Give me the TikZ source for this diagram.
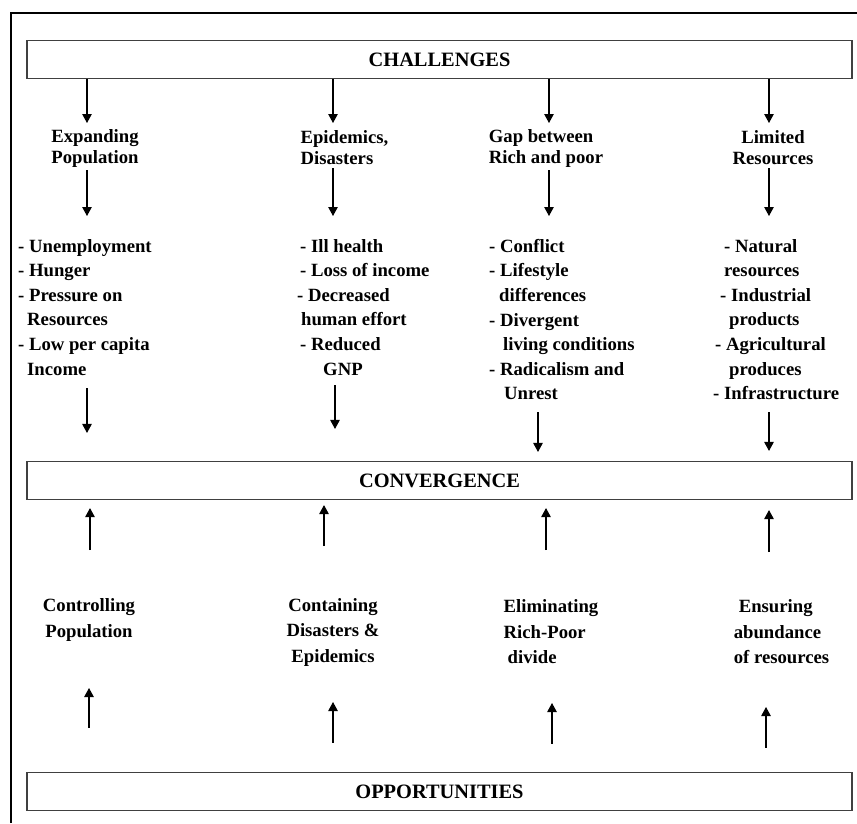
\documentclass[tikz,border=0pt]{standalone}
\usepackage{fontspec}
\setmainfont{Liberation Serif}
\usepackage{tikz}
\usetikzlibrary{arrows.meta,positioning}

\tikzset{
    titlebox/.style={draw=black!75, line width=1.1pt, minimum width=825pt, minimum height=38pt,
        inner sep=0pt, font=\fontsize{20.4}{24}\selectfont\bfseries},
    headtxt/.style={inner sep=0pt, align=center, font=\fontsize{18.7}{21}\selectfont\bfseries},
    listtxt/.style={inner sep=0pt, align=left, anchor=north west, font=\fontsize{18.7}{24.6}\selectfont\bfseries},
    opptxt/.style={inner sep=0pt, font=\fontsize{18.7}{25.5}\selectfont\bfseries},
    arr/.style={line width=1.1pt, -{Triangle[length=9pt,width=9.5pt]}},
}

\begin{document}
\begin{tikzpicture}[x=1pt,y=-1pt]
    \useasboundingbox (0,0) rectangle (857,823);
    % outer frame (left and top)
    \draw[line width=2pt] (11,823) -- (11,13) -- (857,13);

    % the three bars
    \node[titlebox] (chal) at (439.5,59.5) {CHALLENGES};
    \node[titlebox] (conv) at (439.5,480.5) {CONVERGENCE};
    \node[titlebox] (opp)  at (439.5,791.5) {OPPORTUNITIES};

    % challenges
    \node[headtxt, align=left] (h1) at (95,148) {Expanding\\Population};
    \node[headtxt, align=left] (h2) at (344.5,148) {Epidemics,\\Disasters};
    \node[headtxt, align=left] (h3) at (546,148) {Gap between\\Rich and poor};
    \node[headtxt] (h4) at (773,148) {Limited\\Resources};

    % consequences
    \node[listtxt] (l1) at (18,239) {- Unemployment\\- Hunger\\- Pressure on\\\hspace*{9pt}Resources\\- Low per capita\\\hspace*{9pt}Income};
    \node[listtxt] (l2) at (297,239) {\hspace*{3pt}- Ill health\\\hspace*{3pt}- Loss of income\\- Decreased\\\hspace*{4pt}human effort\\\hspace*{3pt}- Reduced\\\hspace*{26pt}GNP};
    \node[listtxt] (l3) at (489,239) {- Conflict\\- Lifestyle\\\hspace*{10pt}differences\\- Divergent\\\hspace*{14pt}living conditions\\- Radicalism and\\\hspace*{15pt}Unrest};
    \node[listtxt] (l4) at (713,239) {\hspace*{11pt}- Natural\\\hspace*{11pt}resources\\\hspace*{7pt}- Industrial\\\hspace*{16pt}products\\\hspace*{2pt}- Agricultural\\\hspace*{16pt}produces\\- Infrastructure};

    % opportunities
    \node[opptxt, align=center] (o1) at (89,620) {Controlling\\Population};
    \node[opptxt, align=center] (o2) at (333,632) {Containing\\Disasters \&\\Epidemics};
    \node[opptxt, align=left] (o3) at (551,632) {Eliminating\\Rich-Poor\\\hspace*{4pt}divide};
    \node[opptxt, align=left] (o4) at (781.5,632) {\hspace*{5pt}Ensuring\\abundance\\of resources};

    % arrow ends
    \coordinate (t1) at (87,123);
    \coordinate (t2) at (333,123);
    \coordinate (t3) at (549,123);
    \coordinate (t4) at (769,123);
    \coordinate (m1) at (87,216);
    \coordinate (m2) at (333,216);
    \coordinate (m3) at (549,216);
    \coordinate (m4) at (769,216);
    \coordinate (u1) at (87,388);
    \coordinate (u2) at (335,385);
    \coordinate (u3) at (538,412);
    \coordinate (u4) at (769,412);
    \coordinate (v1) at (90,550);
    \coordinate (v2) at (324,546);
    \coordinate (v3) at (546,550);
    \coordinate (v4) at (769,552);
    \coordinate (w1) at (89,688);
    \coordinate (w2) at (333,702);
    \coordinate (w3) at (552,703);
    \coordinate (w4) at (766,707);

    % challenges -> consequences -> convergence
    \draw[arr] (chal.south -| t1) -- (t1);
    \draw[arr] (chal.south -| t2) -- (t2);
    \draw[arr] (chal.south -| t3) -- (t3);
    \draw[arr] (chal.south -| t4) -- (t4);
    \draw[arr, shorten <=3pt] (h1.south -| m1) -- (m1);
    \draw[arr, shorten <=3pt] (h2.south -| m2) -- (m2);
    \draw[arr, shorten <=3pt] (h3.south -| m3) -- (m3);
    \draw[arr, shorten <=3pt] (h4.south -| m4) -- (m4);
    \draw[arr, shorten >=28pt] (u1) -- (u1 |- conv.north);
    \draw[arr, shorten >=32pt] (u2) -- (u2 |- conv.north);
    \draw[arr, shorten >=9pt] (u3) -- (u3 |- conv.north);
    \draw[arr, shorten >=10pt] (u4) -- (u4 |- conv.north);

    % opportunities -> convergence
    \draw[arr, shorten >=8pt] (v1) -- (v1 |- conv.south);
    \draw[arr, shorten >=5pt] (v2) -- (v2 |- conv.south);
    \draw[arr, shorten >=8pt] (v3) -- (v3 |- conv.south);
    \draw[arr, shorten >=10pt] (v4) -- (v4 |- conv.south);
    \draw[arr, shorten <=44pt] (opp.north -| w1) -- (w1);
    \draw[arr, shorten <=29pt] (opp.north -| w2) -- (w2);
    \draw[arr, shorten <=28pt] (opp.north -| w3) -- (w3);
    \draw[arr, shorten <=24pt] (opp.north -| w4) -- (w4);
\end{tikzpicture}
\end{document}
